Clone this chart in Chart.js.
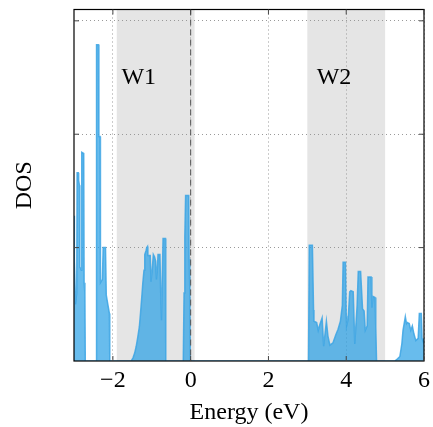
<!DOCTYPE html>
<html>
<head>
<meta charset="utf-8">
<script src="https://cdn.jsdelivr.net/npm/chart.js@4.4.0/dist/chart.umd.min.js"></script>
<style>
  html, body { margin: 0; padding: 0; background: #fff; }
  #wrap { width: 433px; height: 427px; }
</style>
</head>
<body>
<div id="wrap"><canvas id="dosChart"></canvas></div>
<script>
// Density of states
const energyEv = [
  -3.00, -2.99, -2.96, -2.93, -2.92, -2.89, -2.88, -2.86, -2.85, -2.81, -2.80, -2.75, -2.74, -2.72, -2.71,
  -2.43, -2.42, -2.37, -2.36, -2.33, -2.32, -2.27, -2.25, -2.19, -2.17, -2.13, -2.09, -2.08,
  -1.53, -1.48, -1.44, -1.40, -1.36, -1.32, -1.29, -1.26, -1.23, -1.20, -1.18, -1.15, -1.13, -1.11, -1.10,
  -1.04, -1.02, -0.99, -0.96, -0.93, -0.90, -0.88, -0.85, -0.84, -0.79, -0.77, -0.75, -0.72, -0.71, -0.65, -0.64,
  -0.19, -0.17, -0.15, -0.13, -0.05, -0.04, -0.02, -0.01,
  3.03, 3.05, 3.13, 3.16, 3.17, 3.24, 3.28, 3.32, 3.38, 3.42, 3.49, 3.53, 3.58, 3.66, 3.73, 3.79, 3.85,
  3.90, 3.92, 3.98, 4.00, 4.01, 4.05, 4.09, 4.12, 4.18, 4.22, 4.28, 4.31, 4.37, 4.42, 4.46, 4.49, 4.54,
  4.56, 4.64, 4.66, 4.69, 4.74, 4.76, 4.78,
  5.25, 5.32, 5.38, 5.43, 5.46, 5.52, 5.55, 5.57, 5.62, 5.66, 5.70, 5.74, 5.79, 5.85, 5.88, 5.93, 5.95, 5.98, 6.00
];
const dosValues = [
  1.28, 0.88, 0.50, 0.60, 1.66, 1.66, 1.59, 1.55, 0.83, 0.80, 1.84, 1.83, 0.69, 0.60, 0,
  0, 2.79, 2.79, 1.98, 1.98, 0.69, 0.72, 1.00, 1.00, 0.58, 0.50, 0.42, 0,
  0, 0.03, 0.07, 0.13, 0.21, 0.30, 0.42, 0.55, 0.69, 0.80, 0.94, 0.97, 1.00, 1.01, 0.93,
  0.93, 0.70, 0.80, 0.94, 0.92, 0.88, 0.72, 0.85, 0.94, 0.94, 0.60, 0.36, 0.90, 1.08, 1.08, 0,
  0, 0.60, 1.10, 1.46, 1.46, 0.90, 0.60, 0,
  0, 1.02, 1.02, 0.45, 0.35, 0.34, 0.27, 0.32, 0.38, 0.13, 0.35, 0.22, 0.14, 0.16, 0.23, 0.28, 0.35,
  0.49, 0.87, 0.87, 0.40, 0.31, 0.37, 0.61, 0.62, 0.61, 0.15, 0.49, 0.79, 0.79, 0.46, 0.44, 0.27, 0.31,
  0.74, 0.74, 0.47, 0.57, 0.56, 0.30, 0,
  0, 0.02, 0.04, 0.15, 0.27, 0.39, 0.33, 0.34, 0.33, 0.27, 0.31, 0.24, 0.18, 0.20, 0.42, 0.42, 0.20, 0.17, 0.20
];

const xTicks = [-2, 0, 2, 4, 6];
const xTickLabels = ['\u22122', '0', '2', '4', '6'];
const yTicks = [1, 2, 3];

// shaded energy windows and their labels
const windowNames = ['W1', 'W2'];
const windowStart = [-1.9, 3.0];
const windowEnd = [0.1, 5.0];
const windowLabelX = [-1.78, 3.24];
const windowLabelY = 2.5;

const serif = '"Liberation Serif", "DejaVu Serif", serif';

const windowsPlugin = {
  id: 'windows',
  beforeDraw(chart) {
    const { ctx, chartArea, scales: { x } } = chart;
    ctx.save();
    ctx.fillStyle = '#e5e5e5';
    windowStart.forEach((s, i) => {
      const x0 = x.getPixelForValue(s);
      const x1 = x.getPixelForValue(windowEnd[i]);
      ctx.fillRect(x0, chartArea.top, x1 - x0, chartArea.bottom - chartArea.top);
    });
    ctx.restore();
  },
  afterDraw(chart) {
    const { ctx, chartArea, scales: { x, y } } = chart;
    ctx.save();
    // Fermi level
    ctx.strokeStyle = '#555';
    ctx.lineWidth = 1;
    ctx.setLineDash([6, 4]);
    const xf = x.getPixelForValue(0);
    ctx.beginPath();
    ctx.moveTo(xf, chartArea.top);
    ctx.lineTo(xf, chartArea.bottom);
    ctx.stroke();
    ctx.setLineDash([]);

    // window labels
    ctx.fillStyle = '#000';
    ctx.font = '24px ' + serif;
    ctx.textBaseline = 'middle';
    ctx.textAlign = 'left';
    windowNames.forEach((n, i) => {
      ctx.fillText(n, x.getPixelForValue(windowLabelX[i]), y.getPixelForValue(windowLabelY));
    });

    // frame with inward ticks
    ctx.strokeStyle = '#000';
    ctx.lineWidth = 1.2;
    ctx.strokeRect(chartArea.left, chartArea.top, chartArea.right - chartArea.left, chartArea.bottom - chartArea.top);
    ctx.lineWidth = 1;
    ctx.strokeStyle = '#444';
    ctx.beginPath();
    xTicks.forEach(v => {
      const px = x.getPixelForValue(v);
      ctx.moveTo(px, chartArea.bottom); ctx.lineTo(px, chartArea.bottom - 5);
      ctx.moveTo(px, chartArea.top); ctx.lineTo(px, chartArea.top + 5);
    });
    yTicks.forEach(v => {
      const py = y.getPixelForValue(v);
      ctx.moveTo(chartArea.left, py); ctx.lineTo(chartArea.left + 5, py);
      ctx.moveTo(chartArea.right, py); ctx.lineTo(chartArea.right - 5, py);
    });
    ctx.stroke();
    ctx.restore();
  }
};

const ctx = document.getElementById('dosChart').getContext('2d');
new Chart(ctx, {
  type: 'line',
  data: {
    datasets: [{
      data: energyEv.map((e, i) => ({ x: e, y: dosValues[i] })),
      borderColor: 'rgba(60, 165, 228, 0.85)',
      backgroundColor: 'rgba(40, 160, 230, 0.7)',
      borderWidth: 1.5,
      fill: 'origin',
      pointRadius: 0,
      tension: 0
    }]
  },
  options: {
    responsive: true,
    maintainAspectRatio: false,
    animation: false,
    layout: { padding: { top: 9.5, right: 9, left: 0, bottom: 0 } },
    plugins: { legend: { display: false }, tooltip: { enabled: false } },
    scales: {
      x: {
        type: 'linear',
        min: -3,
        max: 6,
        afterBuildTicks: scale => { scale.ticks = xTicks.map(v => ({ value: v })); },
        afterFit: scale => {
          scale.height = 66;
          scale.paddingLeft = 0;
          scale.paddingRight = 0;
        },
        ticks: {
          padding: 5,
          color: '#000',
          font: { family: serif, size: 24 },
          maxRotation: 0,
          callback: v => xTickLabels[xTicks.indexOf(v)]
        },
        grid: { color: '#999', drawTicks: false, lineWidth: 1 },
        border: { display: false, dash: [1, 3] },
        title: { display: true, text: 'Energy (eV)', color: '#000', font: { family: serif, size: 24 }, padding: { top: 0, bottom: 0 } }
      },
      y: {
        min: 0,
        max: 3.1,
        afterBuildTicks: scale => { scale.ticks = yTicks.map(v => ({ value: v })); },
        afterFit: scale => { scale.width = 74; },
        ticks: { display: false },
        grid: { color: '#999', drawTicks: false, lineWidth: 1 },
        border: { display: false, dash: [1, 3] },
        title: { display: true, text: 'DOS', color: '#000', font: { family: serif, size: 24 }, padding: { top: 10, bottom: 10 } }
      }
    }
  },
  plugins: [windowsPlugin]
});
</script>
</body>
</html>
